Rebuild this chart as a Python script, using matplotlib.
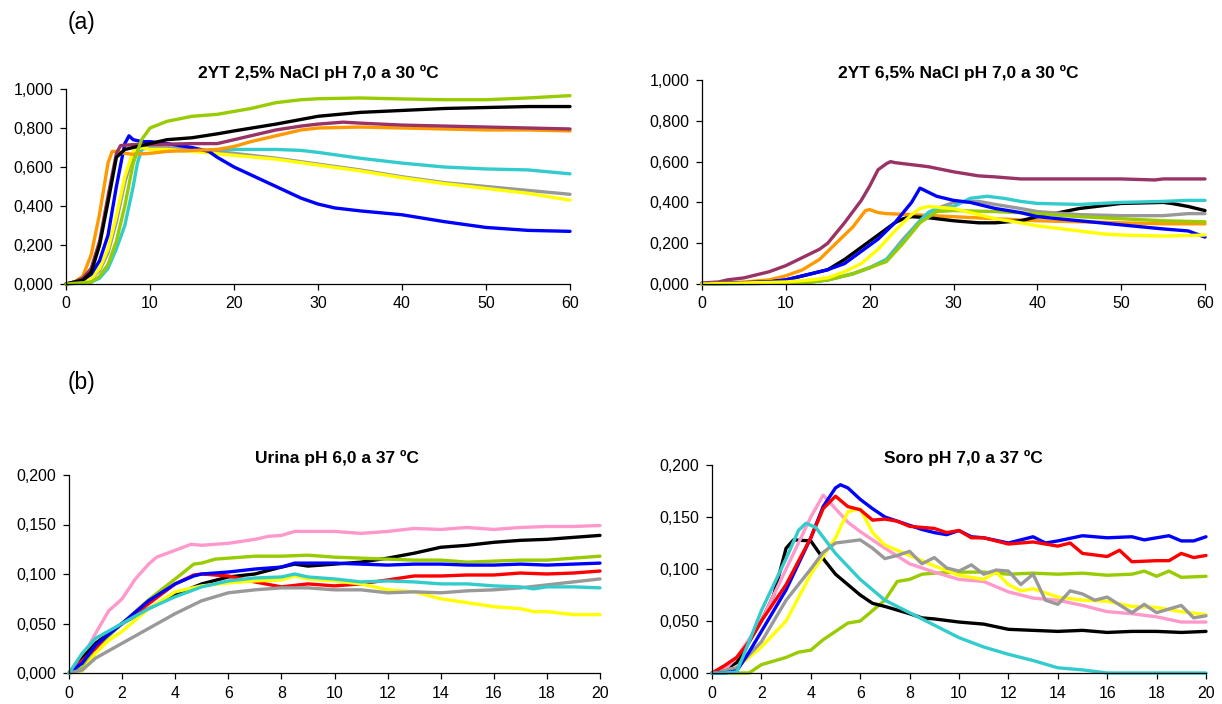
import matplotlib
matplotlib.use("Agg")
import matplotlib.pyplot as plt
from matplotlib.ticker import FuncFormatter, MultipleLocator

plt.rcParams['font.family'] = ['Liberation Sans', 'DejaVu Sans']

GREEN = '#99CC00'
PURPLE = '#993366'
ORANGE = '#FF9900'
CYAN = '#33CCCC'
GRAY = '#999999'
YELLOW = '#FFFF00'
BLUE = '#0000FF'
RED = '#FF0000'
PINK = '#FF99CC'
BLACK = '#000000'

# ---- (a) 2YT 2,5% NaCl pH 7,0 a 30 ºC ----
a1_cyan_t = [0, 2, 3, 4, 5, 6, 7, 8, 8.5, 9, 10, 12, 15, 20, 25, 28, 30, 35, 40, 45, 50, 55, 60]
a1_cyan = [0, 0.005, 0.01, 0.03, 0.08, 0.18, 0.3, 0.5, 0.62, 0.69, 0.7, 0.69, 0.68, 0.69, 0.69, 0.685, 0.675, 0.645, 0.62, 0.6, 0.59, 0.585, 0.565]
a1_gray_t = [0, 2, 3, 4, 5, 6, 7, 8, 9, 10, 12, 15, 20, 25, 30, 35, 40, 45, 50, 55, 60]
a1_gray = [0, 0.01, 0.03, 0.07, 0.16, 0.32, 0.52, 0.67, 0.7, 0.71, 0.7, 0.69, 0.67, 0.645, 0.615, 0.585, 0.55, 0.52, 0.5, 0.48, 0.46]
a1_yellow_t = [0, 2, 3, 4, 5, 6, 7, 8, 9, 10, 12, 15, 20, 25, 30, 35, 40, 45, 50, 55, 60]
a1_yellow = [0, 0.01, 0.03, 0.08, 0.18, 0.35, 0.55, 0.68, 0.7, 0.69, 0.69, 0.68, 0.66, 0.64, 0.61, 0.58, 0.545, 0.515, 0.49, 0.465, 0.43]
a1_blue_t = [0, 2, 3, 4, 5, 6, 7, 7.5, 8, 9, 10, 12, 15, 17, 18, 20, 22, 25, 28, 30, 32, 35, 40, 45, 50, 55, 60]
a1_blue = [0, 0.02, 0.05, 0.12, 0.25, 0.5, 0.72, 0.76, 0.74, 0.73, 0.73, 0.72, 0.7, 0.68, 0.65, 0.6, 0.56, 0.5, 0.44, 0.41, 0.39, 0.375, 0.355, 0.32, 0.29, 0.275, 0.27]
a1_orange_t = [0, 1, 2, 3, 4, 5, 5.5, 6, 7, 8, 10, 12, 15, 18, 20, 22, 25, 28, 30, 35, 40, 45, 50, 55, 60]
a1_orange = [0, 0.01, 0.04, 0.15, 0.36, 0.62, 0.68, 0.68, 0.67, 0.665, 0.67, 0.68, 0.685, 0.69, 0.705, 0.73, 0.76, 0.79, 0.8, 0.805, 0.8, 0.795, 0.79, 0.79, 0.785]
a1_purple_t = [0, 1, 2, 3, 4, 5, 6, 6.5, 8, 10, 15, 18, 20, 22, 25, 28, 30, 33, 35, 40, 45, 50, 55, 60]
a1_purple = [0, 0.01, 0.03, 0.08, 0.22, 0.45, 0.67, 0.71, 0.715, 0.715, 0.72, 0.72, 0.74, 0.76, 0.79, 0.81, 0.82, 0.83, 0.825, 0.815, 0.81, 0.805, 0.8, 0.795]
a1_black_t = [0, 2, 3, 4, 5, 6, 7, 8, 10, 12, 15, 18, 20, 25, 30, 35, 40, 45, 50, 55, 60]
a1_black = [0, 0.02, 0.06, 0.2, 0.42, 0.65, 0.69, 0.7, 0.72, 0.74, 0.75, 0.77, 0.785, 0.82, 0.86, 0.88, 0.89, 0.9, 0.905, 0.91, 0.91]
a1_green_t = [0, 3, 4, 5, 6, 7, 8, 9, 10, 12, 15, 18, 20, 22, 25, 28, 30, 35, 40, 45, 50, 55, 60]
a1_green = [0, 0.01, 0.04, 0.1, 0.22, 0.4, 0.62, 0.74, 0.8, 0.834, 0.86, 0.87, 0.885, 0.9, 0.93, 0.945, 0.95, 0.954, 0.949, 0.945, 0.945, 0.954, 0.966]

# ---- (a) 2YT 6,5% NaCl pH 7,0 a 30 ºC ----
a2_purple_t = [0, 2, 3, 5, 8, 10, 12, 14, 15, 17, 19, 20, 21, 22, 22.5, 23, 25, 27, 30, 33, 35, 38, 40, 45, 50, 54, 55, 60]
a2_purple = [0.005, 0.01, 0.02, 0.03, 0.06, 0.09, 0.13, 0.17, 0.2, 0.3, 0.41, 0.48, 0.56, 0.59, 0.6, 0.595, 0.585, 0.575, 0.55, 0.53, 0.525, 0.515, 0.515, 0.515, 0.515, 0.51, 0.515, 0.515]
a2_orange_t = [0, 5, 8, 10, 12, 14, 16, 18, 19.5, 20, 21, 22, 25, 30, 35, 40, 45, 50, 55, 60]
a2_orange = [0, 0.01, 0.02, 0.04, 0.07, 0.12, 0.2, 0.28, 0.36, 0.365, 0.35, 0.345, 0.34, 0.33, 0.32, 0.31, 0.305, 0.3, 0.295, 0.295]
a2_black_t = [0, 8, 10, 12, 15, 17, 19, 21, 23, 24, 25, 27, 30, 33, 35, 38, 40, 42, 45, 48, 50, 55, 56, 58, 60]
a2_black = [0, 0.01, 0.02, 0.04, 0.07, 0.12, 0.18, 0.24, 0.3, 0.32, 0.33, 0.325, 0.31, 0.3, 0.3, 0.31, 0.33, 0.345, 0.37, 0.385, 0.395, 0.4, 0.395, 0.38, 0.36]
a2_gray_t = [0, 12, 15, 18, 20, 22, 24, 26, 27, 28, 30, 33, 35, 38, 40, 45, 50, 55, 58, 60]
a2_gray = [0, 0.005, 0.02, 0.05, 0.08, 0.12, 0.22, 0.31, 0.35, 0.37, 0.4, 0.405, 0.39, 0.37, 0.355, 0.34, 0.335, 0.335, 0.345, 0.345]
a2_cyan_t = [0, 12, 15, 18, 20, 22, 24, 26, 27, 28, 30, 32, 34, 36, 38, 40, 45, 50, 55, 58, 60]
a2_cyan = [0, 0.005, 0.02, 0.05, 0.08, 0.12, 0.21, 0.31, 0.35, 0.37, 0.38, 0.42, 0.43, 0.42, 0.405, 0.395, 0.39, 0.4, 0.405, 0.41, 0.41]
a2_green_t = [0, 12, 15, 18, 20, 22, 24, 26, 28, 30, 35, 40, 45, 50, 55, 60]
a2_green = [0, 0.005, 0.02, 0.05, 0.08, 0.11, 0.2, 0.3, 0.355, 0.36, 0.355, 0.345, 0.33, 0.32, 0.31, 0.305]
a2_blue_t = [0, 8, 10, 12, 15, 17, 19, 21, 23, 25, 26, 27, 28, 30, 32, 35, 38, 40, 45, 50, 55, 58, 60]
a2_blue = [0, 0.01, 0.02, 0.04, 0.07, 0.1, 0.16, 0.22, 0.3, 0.4, 0.47, 0.45, 0.43, 0.41, 0.4, 0.37, 0.35, 0.33, 0.31, 0.29, 0.27, 0.26, 0.23]
a2_yellow_t = [0, 10, 13, 15, 17, 19, 21, 23, 25, 26, 27, 30, 32, 35, 38, 40, 45, 48, 50, 55, 60]
a2_yellow = [0, 0.01, 0.02, 0.03, 0.06, 0.1, 0.17, 0.26, 0.34, 0.37, 0.38, 0.37, 0.35, 0.32, 0.3, 0.285, 0.26, 0.245, 0.24, 0.235, 0.24]

# ---- (b) Urina pH 6,0 a 37 ºC ----
b1_pink_t = [0, 0.5, 1, 1.5, 1.8, 2, 2.5, 3, 3.3, 4, 4.6, 5, 5.5, 6, 7, 7.5, 8, 8.5, 10, 11, 12, 13, 14, 15, 16, 17, 18, 19, 20]
b1_pink = [0, 0.015, 0.04, 0.063, 0.07, 0.075, 0.095, 0.11, 0.117, 0.124, 0.13, 0.129, 0.13, 0.131, 0.135, 0.138, 0.139, 0.143, 0.143, 0.141, 0.143, 0.146, 0.145, 0.147, 0.145, 0.147, 0.148, 0.148, 0.149]
b1_black_t = [0, 1, 2, 3, 4, 5, 6, 7, 8, 8.5, 9, 10, 11, 12, 13, 14, 15, 16, 17, 18, 19, 20]
b1_black = [0, 0.03, 0.05, 0.065, 0.079, 0.09, 0.097, 0.1, 0.107, 0.11, 0.108, 0.11, 0.112, 0.116, 0.121, 0.127, 0.129, 0.132, 0.134, 0.135, 0.137, 0.139]
b1_green_t = [0, 0.5, 1, 2, 3, 4, 4.7, 5, 5.5, 6, 7, 8, 9, 10, 11, 12, 13, 14, 15, 16, 17, 18, 19, 20]
b1_green = [0, 0.005, 0.025, 0.05, 0.074, 0.095, 0.11, 0.111, 0.115, 0.116, 0.118, 0.118, 0.119, 0.117, 0.116, 0.115, 0.114, 0.114, 0.112, 0.113, 0.114, 0.114, 0.116, 0.118]
b1_red_t = [0, 1, 1.5, 2, 3, 4, 4.7, 5, 6, 7, 8, 9, 10, 11, 12, 13, 14, 15, 16, 17, 18, 19, 20]
b1_red = [0, 0.025, 0.04, 0.05, 0.07, 0.09, 0.099, 0.1, 0.098, 0.092, 0.087, 0.09, 0.088, 0.09, 0.094, 0.098, 0.098, 0.099, 0.099, 0.101, 0.1, 0.101, 0.103]
b1_blue_t = [0, 0.5, 1, 2, 3, 4, 4.7, 5, 6, 7, 8, 8.5, 10, 11, 12, 13, 14, 15, 16, 17, 18, 19, 20]
b1_blue = [0, 0.01, 0.028, 0.05, 0.073, 0.09, 0.098, 0.1, 0.102, 0.105, 0.107, 0.111, 0.111, 0.11, 0.109, 0.11, 0.11, 0.109, 0.109, 0.11, 0.109, 0.11, 0.111]
b1_yellow_t = [0, 0.5, 1, 1.5, 2, 3, 4, 5, 6, 7, 8, 8.5, 9, 10, 11, 12, 13, 14, 15, 16, 17, 17.5, 18, 19, 20]
b1_yellow = [0, 0.002, 0.02, 0.033, 0.042, 0.065, 0.082, 0.088, 0.091, 0.093, 0.094, 0.098, 0.095, 0.093, 0.09, 0.084, 0.082, 0.075, 0.071, 0.067, 0.065, 0.062, 0.062, 0.059, 0.059]
b1_gray_t = [0, 0.5, 1, 2, 3, 4, 5, 6, 7, 8, 9, 10, 11, 12, 13, 14, 15, 16, 17, 18, 19, 20]
b1_gray = [0, 0.003, 0.015, 0.03, 0.045, 0.06, 0.073, 0.081, 0.084, 0.086, 0.086, 0.084, 0.084, 0.081, 0.082, 0.081, 0.083, 0.084, 0.086, 0.089, 0.092, 0.095]
b1_cyan_t = [0, 0.5, 1, 2, 3, 4, 5, 6, 7, 8, 8.5, 9, 10, 11, 12, 13, 14, 15, 16, 17, 17.5, 18, 19, 20]
b1_cyan = [0, 0.02, 0.035, 0.05, 0.065, 0.077, 0.087, 0.093, 0.096, 0.097, 0.1, 0.097, 0.095, 0.092, 0.093, 0.092, 0.09, 0.09, 0.088, 0.087, 0.085, 0.087, 0.087, 0.086]

# ---- (b) Soro pH 7,0 a 37 ºC ----
b2_green_t = [0, 1.5, 2, 3, 3.5, 4, 4.5, 5, 5.5, 6, 7, 7.5, 8, 8.5, 9, 10, 11, 12, 13, 14, 15, 16, 17, 17.5, 18, 18.5, 19, 20]
b2_green = [0, 0, 0.008, 0.015, 0.02, 0.022, 0.032, 0.04, 0.048, 0.05, 0.07, 0.088, 0.09, 0.095, 0.096, 0.097, 0.097, 0.095, 0.096, 0.095, 0.096, 0.094, 0.095, 0.098, 0.093, 0.098, 0.092, 0.093]
b2_black_t = [0, 0.5, 1, 2, 2.5, 3, 3.3, 4, 4.5, 5, 6, 6.5, 7, 8, 8.5, 9, 10, 11, 12, 13, 14, 15, 16, 17, 18, 19, 20]
b2_black = [0, 0.003, 0.01, 0.05, 0.075, 0.12, 0.128, 0.127, 0.11, 0.095, 0.075, 0.067, 0.064, 0.057, 0.053, 0.052, 0.049, 0.047, 0.042, 0.041, 0.04, 0.041, 0.039, 0.04, 0.04, 0.039, 0.04]
b2_pink_t = [0, 0.5, 1, 2, 3, 4, 4.5, 5, 5.5, 6, 6.5, 7, 8, 9, 10, 11, 12, 13, 14, 15, 16, 17, 18, 19, 20]
b2_pink = [0, 0.003, 0.015, 0.05, 0.1, 0.15, 0.171, 0.158, 0.145, 0.136, 0.128, 0.12, 0.105, 0.097, 0.09, 0.088, 0.078, 0.072, 0.07, 0.065, 0.059, 0.057, 0.054, 0.049, 0.049]
b2_yellow_t = [0, 1, 2, 3, 4, 5, 5.5, 6, 6.5, 7, 8, 9, 10, 11, 11.5, 12, 12.5, 13, 14, 15, 16, 17, 18, 19, 20]
b2_yellow = [0, 0.005, 0.025, 0.05, 0.095, 0.13, 0.155, 0.158, 0.135, 0.123, 0.113, 0.103, 0.094, 0.09, 0.097, 0.085, 0.079, 0.081, 0.073, 0.07, 0.069, 0.064, 0.063, 0.059, 0.056]
b2_gray_t = [0, 1, 2, 3, 4, 4.5, 5, 6, 6.5, 7, 7.5, 8, 8.5, 9, 9.5, 10, 10.5, 11, 11.5, 12, 12.5, 13, 13.5, 14, 14.5, 15, 15.5, 16, 17, 17.5, 18, 19, 19.5, 20]
b2_gray = [0, 0.005, 0.03, 0.07, 0.1, 0.116, 0.125, 0.128, 0.12, 0.11, 0.113, 0.117, 0.105, 0.111, 0.101, 0.098, 0.104, 0.095, 0.099, 0.098, 0.085, 0.095, 0.07, 0.066, 0.079, 0.076, 0.07, 0.073, 0.058, 0.066, 0.058, 0.065, 0.053, 0.055]
b2_blue_t = [0, 0.5, 1, 1.5, 2, 3, 4, 4.5, 5, 5.2, 5.5, 6, 6.5, 7, 8, 8.5, 9, 9.5, 10, 10.5, 11, 12, 13, 13.5, 14, 15, 16, 17, 17.5, 18.5, 19, 19.5, 20]
b2_blue = [0, 0, 0.002, 0.02, 0.04, 0.08, 0.13, 0.16, 0.178, 0.181, 0.178, 0.167, 0.158, 0.15, 0.142, 0.138, 0.135, 0.133, 0.137, 0.131, 0.13, 0.125, 0.131, 0.125, 0.127, 0.132, 0.13, 0.131, 0.128, 0.132, 0.127, 0.127, 0.131]
b2_red_t = [0, 0.5, 1, 1.5, 2, 3, 4, 4.5, 5, 5.5, 6, 6.5, 7, 7.5, 8, 9, 9.5, 10, 10.5, 11, 12, 13, 14, 14.5, 15, 16, 16.5, 17, 18, 18.5, 19, 19.5, 20]
b2_red = [0, 0.007, 0.015, 0.03, 0.05, 0.085, 0.13, 0.158, 0.17, 0.16, 0.157, 0.147, 0.148, 0.146, 0.141, 0.139, 0.135, 0.137, 0.13, 0.13, 0.124, 0.126, 0.122, 0.125, 0.115, 0.112, 0.118, 0.107, 0.108, 0.108, 0.115, 0.111, 0.113]
b2_cyan_t = [0, 0.5, 1, 1.5, 2, 3, 3.5, 3.8, 4.2, 5, 6, 7, 8, 9, 10, 11, 12, 13, 14, 15, 16, 20]
b2_cyan = [0, 0, 0.001, 0.03, 0.06, 0.11, 0.137, 0.144, 0.14, 0.115, 0.09, 0.07, 0.058, 0.046, 0.034, 0.025, 0.018, 0.012, 0.005, 0.003, 0, 0]

panels = [
    # (axes rect in figure fraction, title, title position, x max, x step, y max, y step, series)
    ([66 / 1222, 1 - 284 / 704, 504 / 1222, 195 / 704], '2YT 2,5% NaCl pH 7,0 a 30 ºC', (318, 73), 60, 10, 1.0, 0.2,
     [(a1_cyan_t, a1_cyan, CYAN), (a1_gray_t, a1_gray, GRAY), (a1_yellow_t, a1_yellow, YELLOW),
      (a1_blue_t, a1_blue, BLUE), (a1_orange_t, a1_orange, ORANGE), (a1_purple_t, a1_purple, PURPLE),
      (a1_black_t, a1_black, BLACK), (a1_green_t, a1_green, GREEN)]),
    ([702 / 1222, 1 - 284 / 704, 503 / 1222, 204 / 704], '2YT 6,5% NaCl pH 7,0 a 30 ºC', (958, 73), 60, 10, 1.0, 0.2,
     [(a2_purple_t, a2_purple, PURPLE), (a2_orange_t, a2_orange, ORANGE), (a2_black_t, a2_black, BLACK),
      (a2_gray_t, a2_gray, GRAY), (a2_cyan_t, a2_cyan, CYAN), (a2_green_t, a2_green, GREEN),
      (a2_blue_t, a2_blue, BLUE), (a2_yellow_t, a2_yellow, YELLOW)]),
    ([69 / 1222, 1 - 673 / 704, 531 / 1222, 198 / 704], 'Urina pH 6,0 a 37 ºC', (337, 458), 20, 2, 0.2, 0.05,
     [(b1_pink_t, b1_pink, PINK), (b1_black_t, b1_black, BLACK), (b1_green_t, b1_green, GREEN),
      (b1_red_t, b1_red, RED), (b1_blue_t, b1_blue, BLUE), (b1_yellow_t, b1_yellow, YELLOW),
      (b1_gray_t, b1_gray, GRAY), (b1_cyan_t, b1_cyan, CYAN)]),
    ([712 / 1222, 1 - 673 / 704, 494 / 1222, 208 / 704], 'Soro pH 7,0 a 37 ºC', (963, 458), 20, 2, 0.2, 0.05,
     [(b2_green_t, b2_green, GREEN), (b2_black_t, b2_black, BLACK), (b2_pink_t, b2_pink, PINK),
      (b2_yellow_t, b2_yellow, YELLOW), (b2_gray_t, b2_gray, GRAY), (b2_blue_t, b2_blue, BLUE),
      (b2_red_t, b2_red, RED), (b2_cyan_t, b2_cyan, CYAN)]),
]

fig = plt.figure(figsize=(12.22, 7.04), dpi=100)
fig.patch.set_facecolor('white')

comma3 = FuncFormatter(lambda v, pos: f'{v:.3f}'.replace('.', ','))

for rect, title, (tx, ty), xmax, xstep, ymax, ystep, series in panels:
    ax = fig.add_axes(rect)
    for t, y, c in series:
        ax.plot(t, y, color=c, lw=2.4, solid_joinstyle='round', solid_capstyle='round', clip_on=False)
    ax.set_xlim(0, xmax)
    ax.set_ylim(0, ymax)
    ax.xaxis.set_major_locator(MultipleLocator(xstep))
    ax.yaxis.set_major_locator(MultipleLocator(ystep))
    ax.yaxis.set_major_formatter(comma3)
    for side in ('top', 'right'):
        ax.spines[side].set_visible(False)
    for side in ('left', 'bottom'):
        ax.spines[side].set_color('#000000')
        ax.spines[side].set_linewidth(0.9)
    ax.tick_params(direction='out', length=4, width=0.9, labelsize=11.5, pad=5)
    fig.text(tx / 1222, 1 - ty / 704, title, ha='center', va='center', fontsize=12.5, fontweight='bold')

fig.text(68 / 1222, 1 - 22 / 704, '(a)', ha='left', va='center', fontsize=16.5)
fig.text(68 / 1222, 1 - 383 / 704, '(b)', ha='left', va='center', fontsize=16.5)

fig.savefig('out.png', dpi=100, facecolor='white')
